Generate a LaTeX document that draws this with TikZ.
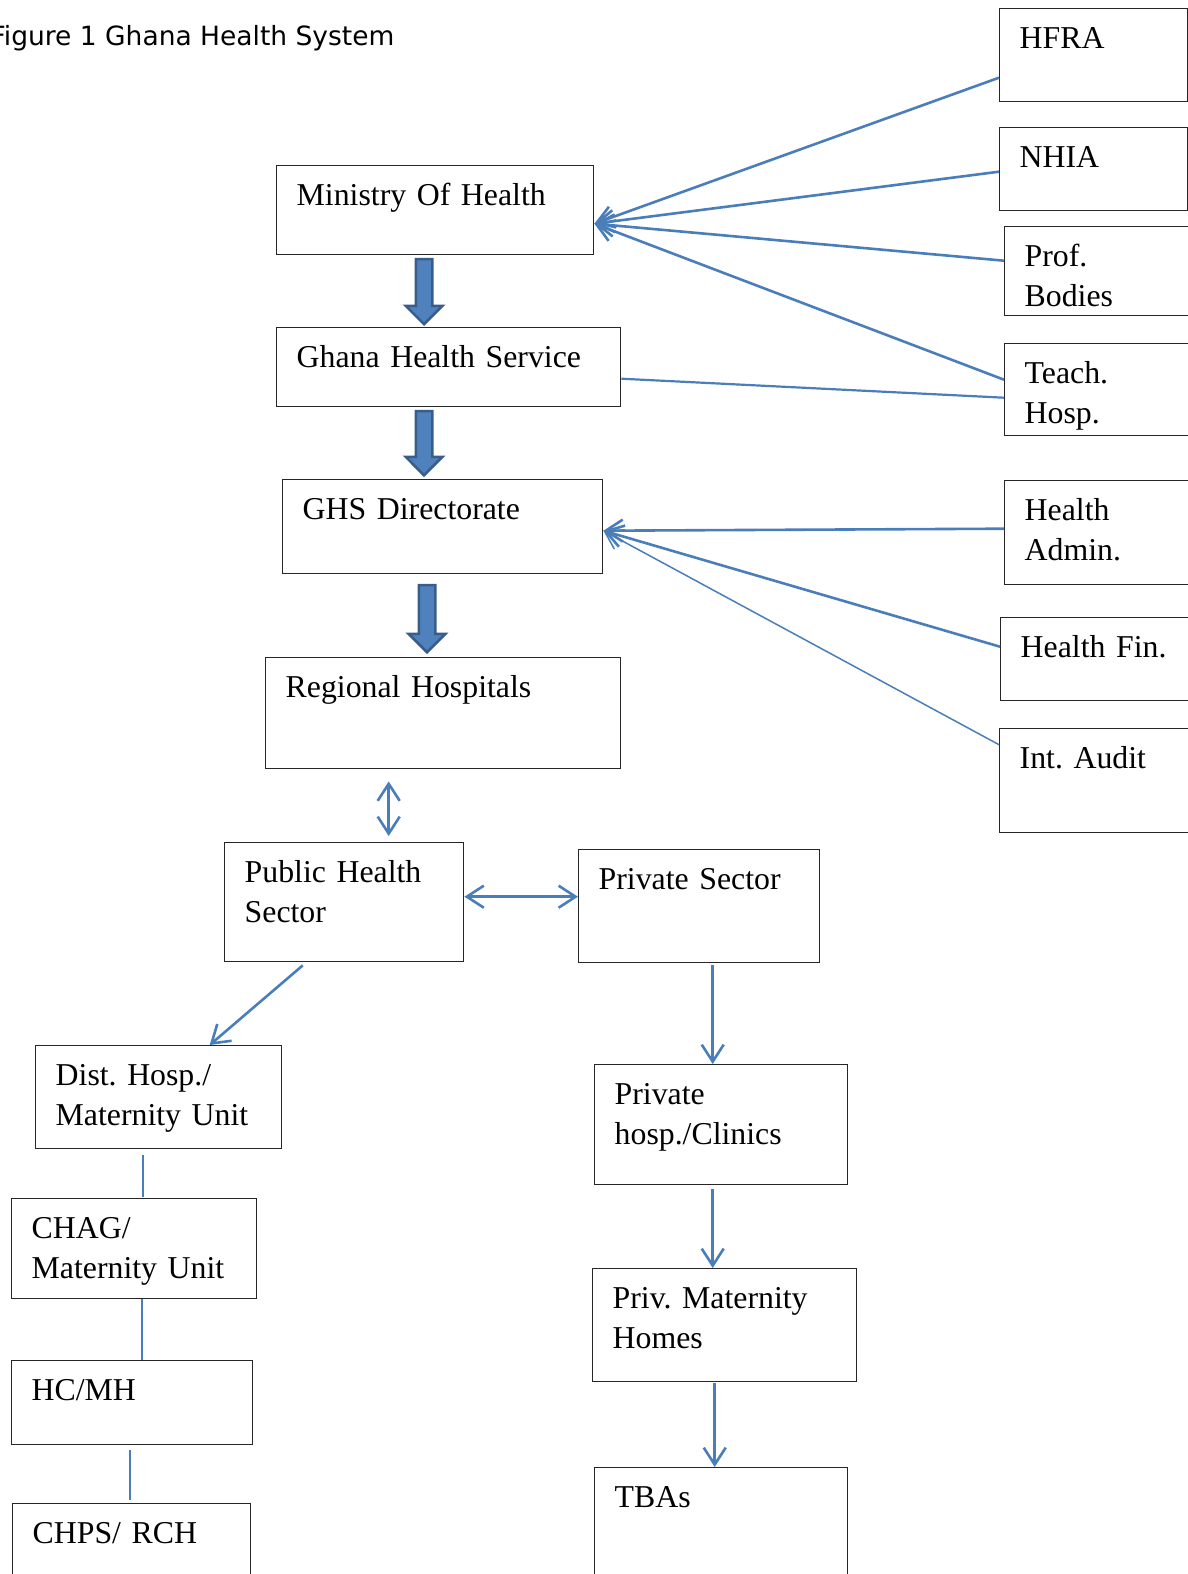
\documentclass[tikz,border=0pt]{standalone}
\usepackage{fontspec}
\setmainfont{Liberation Serif}
\newfontfamily\titlefont{DejaVu Sans}
\usetikzlibrary{arrows.meta,shapes.arrows}
\definecolor{linkblue}{HTML}{4A7EBB}
\definecolor{arrowfill}{HTML}{4F81BD}
\definecolor{arrowedge}{HTML}{385D8A}
\newcommand\boxfont{\fontsize{31.8pt}{40pt}\selectfont\frenchspacing}
\tikzset{
  orgbox/.style 2 args={draw=black!85, line width=1.4pt, anchor=north west,
    inner xsep=20pt, inner ysep=0pt, text height=40pt, text width=#1,
    text depth=#2, align=left, font=\boxfont},
  fatarrow/.style={single arrow, draw=arrowedge, fill=arrowfill, line width=2.5pt,
    shape border rotate=270, minimum width=34pt, single arrow head extend=10pt,
    inner sep=7pt, anchor=tip},
  link/.style={draw=linkblue, line width=2.6pt, -{Straight Barb[length=17pt,width=22pt]}},
  twoway/.style={link, {Straight Barb[length=17pt,width=22pt]}-{Straight Barb[length=17pt,width=22pt]}},
  thinlink/.style={link, line width=1.5pt},
  tie/.style={draw=linkblue, line width=2.2pt}
}
\begin{document}
\begin{tikzpicture}[x=1pt, y=-1pt]
  \useasboundingbox (0,0) rectangle (1188,1574);
  \node[anchor=base east, font=\titlefont\fontsize{26.5pt}{32pt}\selectfont] (title) at (398,45) {Figure 1 Ghana Health System};

  % main chain
  \node[orgbox={277pt}{49pt}] (moh) at (276,165) {Ministry Of Health};
  \node[orgbox={304pt}{39pt}] (ghs) at (276,327) {Ghana Health Service};
  \node[orgbox={280pt}{54pt}] (dir) at (282,479) {GHS Directorate};
  \node[orgbox={315pt}{71pt}] (region) at (265,657) {Regional Hospitals};
  \node[fatarrow, minimum height=65pt] (down1) at (424,326) {};
  \node[fatarrow, minimum height=64pt] (down2) at (424,477) {};
  \node[fatarrow, minimum height=67pt] (down3) at (427,654) {};

  % bodies on the right
  \node[orgbox={148pt}{53pt}] (hfra) at (999,8) {HFRA};
  \node[orgbox={148pt}{43pt}] (nhia) at (999,127) {NHIA};
  \node[orgbox={144pt}{49pt}] (prof) at (1004,226) {Prof.\\Bodies};
  \node[orgbox={144pt}{52pt}] (teach) at (1004,343) {Teach.\\Hosp.};
  \node[orgbox={144pt}{64pt}] (admin) at (1004,480) {Health\\Admin.};
  \node[orgbox={148pt}{43pt}] (fin) at (1000,617) {Health Fin.};
  \node[orgbox={149pt}{64pt}] (audit) at (999,728) {Int. Audit};

  \coordinate (mohport) at ([yshift=-13.5pt]moh.east);
  \draw[link] ([yshift=-22.5pt]hfra.west) -- (mohport);
  \draw[link] ([yshift=-2.5pt]nhia.west) -- (mohport);
  \draw[link] ([yshift=10.5pt]prof.west) -- (mohport);
  \draw[link] ([yshift=10pt]teach.west) -- (mohport);
  \draw[tie] ([yshift=-11.5pt]ghs.east) -- ([yshift=-8pt]teach.west);
  \coordinate (dirport) at ([yshift=-4pt]dir.east);
  \draw[link] ([yshift=4pt]admin.west) -- (dirport);
  \draw[link] ([yshift=12.5pt]fin.west) -- (dirport);
  \draw[thinlink] ([yshift=36pt]audit.west) -- (dirport);

  % sectors
  \node[orgbox={199pt}{79pt}] (public) at (224,842) {Public Health\\Sector};
  \node[orgbox={201pt}{73pt}] (private) at (578,849) {Private Sector};
  \coordinate (regend) at ([xshift=-54.5pt,yshift=-12pt]region.south);
  \coordinate (pubend) at ([xshift=44.5pt,yshift=6pt]public.north);
  \draw[twoway] (regend) -- (pubend);
  \draw[twoway] ([yshift=5.5pt]public.east) -- ([yshift=9.5pt]private.west);

  % public side
  \node[orgbox={206pt}{63pt}] (dist) at (35,1045) {Dist. Hosp./\\Maternity Unit};
  \node[orgbox={205pt}{60pt}] (chag) at (11,1198) {CHAG/\\Maternity Unit};
  \node[orgbox={201pt}{44pt}] (hcmh) at (11,1360) {HC/MH};
  \node[orgbox={198pt}{60pt}] (chps) at (12,1503) {CHPS/ RCH};
  \draw[link] ([xshift=-41.5pt,yshift=-3pt]public.south) -- ([xshift=51pt]dist.north);
  \draw[tie] ([xshift=-16pt,yshift=-6pt]dist.south) -- ([xshift=8.5pt,yshift=1pt]chag.north);
  \draw[tie] ([xshift=7.5pt]chag.south) -- ([xshift=9.5pt]hcmh.north);
  \draw[tie] ([xshift=-2.5pt,yshift=-5pt]hcmh.south) -- ([xshift=-2pt,yshift=3pt]chps.north);

  % private side
  \node[orgbox={213pt}{80pt}] (privhosp) at (594,1064) {Private\\hosp./Clinics};
  \node[orgbox={224pt}{73pt}] (privmat) at (592,1268) {Priv. Maternity\\Homes};
  \node[orgbox={213pt}{70pt}] (tba) at (594,1467) {TBAs};
  \draw[link] ([xshift=13.5pt,yshift=-2pt]private.south) -- ([xshift=-8.5pt]privhosp.north);
  \draw[link] ([xshift=-8.5pt,yshift=-4pt]privhosp.south) -- ([xshift=-12pt]privmat.north);
  \draw[link] ([xshift=-10pt,yshift=-1pt]privmat.south) -- ([xshift=-6.5pt]tba.north);
\end{tikzpicture}
\end{document}
